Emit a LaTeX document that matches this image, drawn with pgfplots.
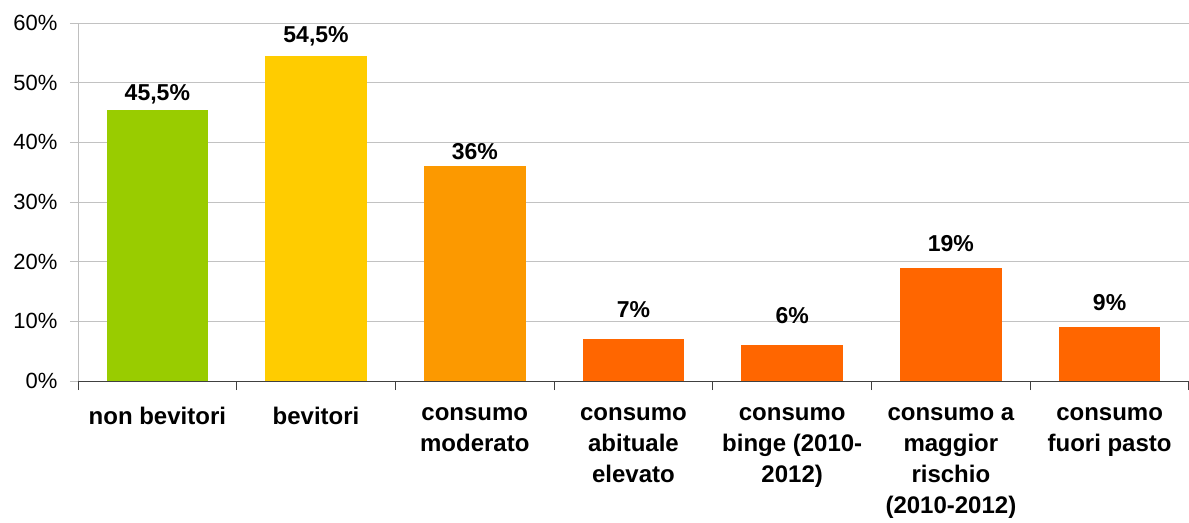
\documentclass[border=0pt]{standalone}
\usepackage{fontspec}
\setmainfont{Liberation Sans}
\usepackage{pgfplots}
\pgfplotsset{compat=1.18}
\definecolor{cgreen}{HTML}{99CC00}
\definecolor{cyellow}{HTML}{FFCC00}
\definecolor{corange}{HTML}{FC9900}
\definecolor{cdark}{HTML}{FF6600}
\begin{document}
\begin{tikzpicture}
\useasboundingbox (-78bp,-142bp) rectangle (1111bp,381bp);
\begin{axis}[
  scale only axis, width=1111bp, height=358bp,
  xmin=-0.5, xmax=6.5, ymin=0, ymax=60,
  ybar, bar width=0.64,
  axis lines*=left, axis line style={-},
  x axis line style={black!75, line width=1bp},
  y axis line style={black!25, line width=1bp},
  ytick={0,10,20,30,40,50,60},
  yticklabels={0\%,10\%,20\%,30\%,40\%,50\%,60\%},
  ymajorgrids, major grid style={black!24, line width=1bp},
  ytick style={black!25, line width=1bp},
  major tick length=8bp, tick align=outside,
  xtick={0,1,2,3,4,5,6},
  xticklabels={{non bevitori},{bevitori},{consumo\\moderato},{consumo\\abituale\\elevato},{consumo\\binge (2010-\\2012)},{consumo a\\maggior\\rischio\\(2010-2012)},{consumo\\fuori pasto}},
  major x tick style={draw=none},
  minor xtick={-0.5,0.5,1.5,2.5,3.5,4.5,5.5,6.5},
  minor tick length=9bp,
  minor x tick style={black!75, line width=1bp},
  xticklabel style={font=\fontsize{24bp}{31bp}\selectfont\bfseries, align=center, anchor=north, yshift=-15bp},
  yticklabel style={font=\fontsize{22bp}{22bp}\selectfont, xshift=-9bp},
  point meta=explicit symbolic,
  nodes near coords,
  every node near coord/.append style={font=\fontsize{23bp}{23bp}\selectfont\bfseries, anchor=south},
]
\addplot[fill=cgreen, draw=none, bar shift=0pt, every node near coord/.append style={yshift=2bp}] coordinates {(0,45.5) [{45,5\%}]};
\addplot[fill=cyellow, draw=none, bar shift=0pt, every node near coord/.append style={yshift=6bp}] coordinates {(1,54.5) [{54,5\%}]};
\addplot[fill=corange, draw=none, bar shift=0pt, every node near coord/.append style={yshift=3bp}] coordinates {(2,36) [{36\%}]};
\addplot[fill=cdark, draw=none, bar shift=0pt, every node near coord/.append style={yshift=18bp}] coordinates {(3,7) [{7\%}]};
\addplot[fill=cdark, draw=none, bar shift=0pt, every node near coord/.append style={yshift=18bp}] coordinates {(4,6) [{6\%}]};
\addplot[fill=cdark, draw=none, bar shift=0pt, every node near coord/.append style={yshift=12bp}] coordinates {(5,19) [{19\%}]};
\addplot[fill=cdark, draw=none, bar shift=0pt, every node near coord/.append style={yshift=13bp}] coordinates {(6,9) [{9\%}]};
\end{axis}
\end{tikzpicture}
\end{document}
